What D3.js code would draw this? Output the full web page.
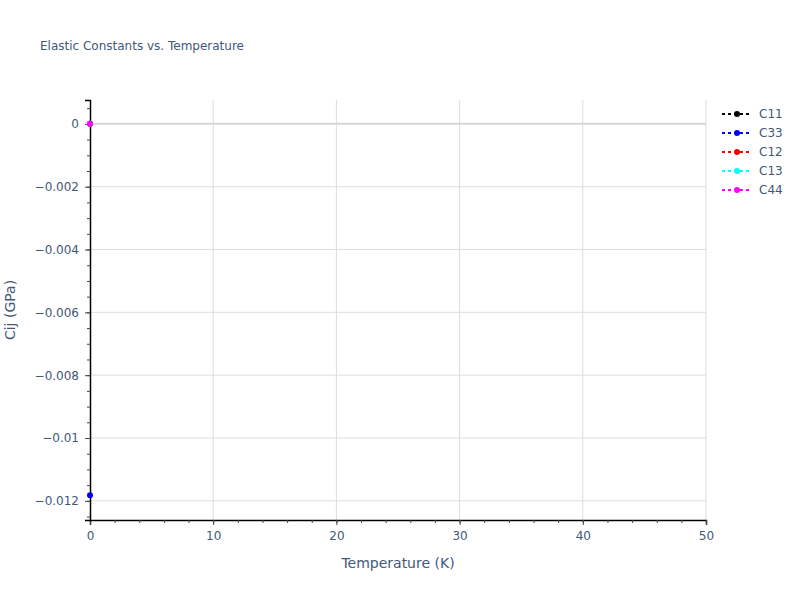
<!DOCTYPE html>
<html>
<head>
<meta charset="utf-8">
<script src="https://cdn.jsdelivr.net/npm/d3@7"></script>
<style>
  body { margin: 0; background: #fff; }
  text { font-family: "DejaVu Sans", verdana, sans-serif; fill: #42587a; }
</style>
</head>
<body>
<div id="chart"></div>
<script>
// data: one point per series at T = 0 K
var temperatures = [0];
var seriesNames = ['C11', 'C33', 'C12', 'C13', 'C44'];
var seriesColors = ['black', 'blue', 'red', 'cyan', 'magenta'];
var c11 = [0];
var c33 = [-0.01182];
var c12 = [0];
var c13 = [0];
var c44 = [0];
var xTicks = [0, 10, 20, 30, 40, 50];
var yTicks = [0, -0.002, -0.004, -0.006, -0.008, -0.01, -0.012];
var yTickLabels = ['0', '\u22120.002', '\u22120.004', '\u22120.006', '\u22120.008', '\u22120.01', '\u22120.012'];

var seriesValues = [c11, c33, c12, c13, c44];

var w = 800;
var h = 600;
var margin = { left: 90, right: 94, top: 100, bottom: 80 };
var fontFamily = '"DejaVu Sans", verdana, sans-serif';
var textColor = '#42587a';

var svg = d3.select('#chart')
    .append('svg')
    .attr('width', w)
    .attr('height', h);

var x = d3.scaleLinear()
    .domain([0, 50])
    .range([margin.left, w - margin.right]);

var y = d3.scaleLinear()
    .domain([-0.01261, 0.00076])
    .range([h - margin.bottom, margin.top]);

// grid
svg.append('g')
    .selectAll('line')
    .data(xTicks.filter(function(d) { return d > 0; }))
    .enter()
    .append('line')
    .attr('x1', function(d) { return x(d); })
    .attr('x2', function(d) { return x(d); })
    .attr('y1', margin.top)
    .attr('y2', h - margin.bottom)
    .attr('stroke', '#dddddd')
    .attr('stroke-width', 1);

svg.append('g')
    .selectAll('line')
    .data(yTicks.filter(function(d) { return d !== 0; }))
    .enter()
    .append('line')
    .attr('x1', margin.left)
    .attr('x2', w - margin.right)
    .attr('y1', function(d) { return y(d); })
    .attr('y2', function(d) { return y(d); })
    .attr('stroke', '#dddddd')
    .attr('stroke-width', 1);

// zero line
svg.append('line')
    .attr('x1', margin.left)
    .attr('x2', w - margin.right)
    .attr('y1', y(0))
    .attr('y2', y(0))
    .attr('stroke', '#d6d6d6')
    .attr('stroke-width', 2);

// axes
var xMinor = d3.range(0, 50.001, 2);
svg.append('g')
    .attr('transform', 'translate(0,' + (h - margin.bottom) + ')')
    .call(d3.axisBottom(x).tickValues(xTicks).tickSize(5).tickPadding(6).tickFormat(d3.format('d')));
svg.append('g')
    .attr('transform', 'translate(0,' + (h - margin.bottom) + ')')
    .call(d3.axisBottom(x).tickValues(xMinor).tickSize(3).tickFormat(''))
    .select('.domain').remove();

var yMinor = d3.range(-0.0125, 0.00076, 0.0005);
svg.append('g')
    .attr('transform', 'translate(' + margin.left + ',0)')
    .call(d3.axisLeft(y).tickValues(yTicks).tickSize(5).tickPadding(6)
        .tickFormat(function(d, i) { return yTickLabels[i]; }));
svg.append('g')
    .attr('transform', 'translate(' + margin.left + ',0)')
    .call(d3.axisLeft(y).tickValues(yMinor).tickSize(3).tickFormat(''))
    .select('.domain').remove();

svg.selectAll('.domain').attr('stroke', 'black').attr('stroke-width', 1.5);
svg.selectAll('.tick line').attr('stroke', '#444');
svg.selectAll('.tick text')
    .attr('font-size', 12)
    .style('fill', textColor)
    .style('font-family', fontFamily);

// series: dotted lines with markers
var line = d3.line()
    .x(function(d) { return x(d[0]); })
    .y(function(d) { return y(d[1]); });

var plot = svg.append('g');
seriesValues.forEach(function(vals, i) {
    var pts = temperatures.map(function(t, j) { return [t, vals[j]]; });
    plot.append('path')
        .attr('d', line(pts))
        .attr('fill', 'none')
        .attr('stroke', seriesColors[i])
        .attr('stroke-width', 2)
        .attr('stroke-dasharray', '3,3');
    plot.selectAll(null)
        .data(pts)
        .enter()
        .append('circle')
        .attr('cx', function(d) { return x(d[0]); })
        .attr('cy', function(d) { return y(d[1]); })
        .attr('r', 3)
        .attr('fill', seriesColors[i]);
});

// title
svg.append('text')
    .attr('x', 40)
    .attr('y', 50)
    .attr('font-size', 12)
    .text('Elastic Constants vs. Temperature');

// axis titles
svg.append('text')
    .attr('x', (x(0) + x(50)) / 2)
    .attr('y', 568)
    .attr('text-anchor', 'middle')
    .attr('font-size', 14)
    .text('Temperature (K)');

svg.append('text')
    .attr('transform', 'translate(15,' + ((y.range()[0] + y.range()[1]) / 2) + ') rotate(-90)')
    .attr('text-anchor', 'middle')
    .attr('font-size', 14)
    .text('Cij (GPa)');

// legend
var legend = svg.append('g');
seriesNames.forEach(function(name, i) {
    var ly = 114 + i * 19;
    legend.append('line')
        .attr('x1', 722)
        .attr('x2', 752)
        .attr('y1', ly)
        .attr('y2', ly)
        .attr('stroke', seriesColors[i])
        .attr('stroke-width', 2)
        .attr('stroke-dasharray', '3,3');
    legend.append('circle')
        .attr('cx', 737)
        .attr('cy', ly)
        .attr('r', 3)
        .attr('fill', seriesColors[i]);
    legend.append('text')
        .attr('x', 759)
        .attr('y', ly + 4)
        .attr('font-size', 12)
        .text(name);
});
</script>
</body>
</html>
